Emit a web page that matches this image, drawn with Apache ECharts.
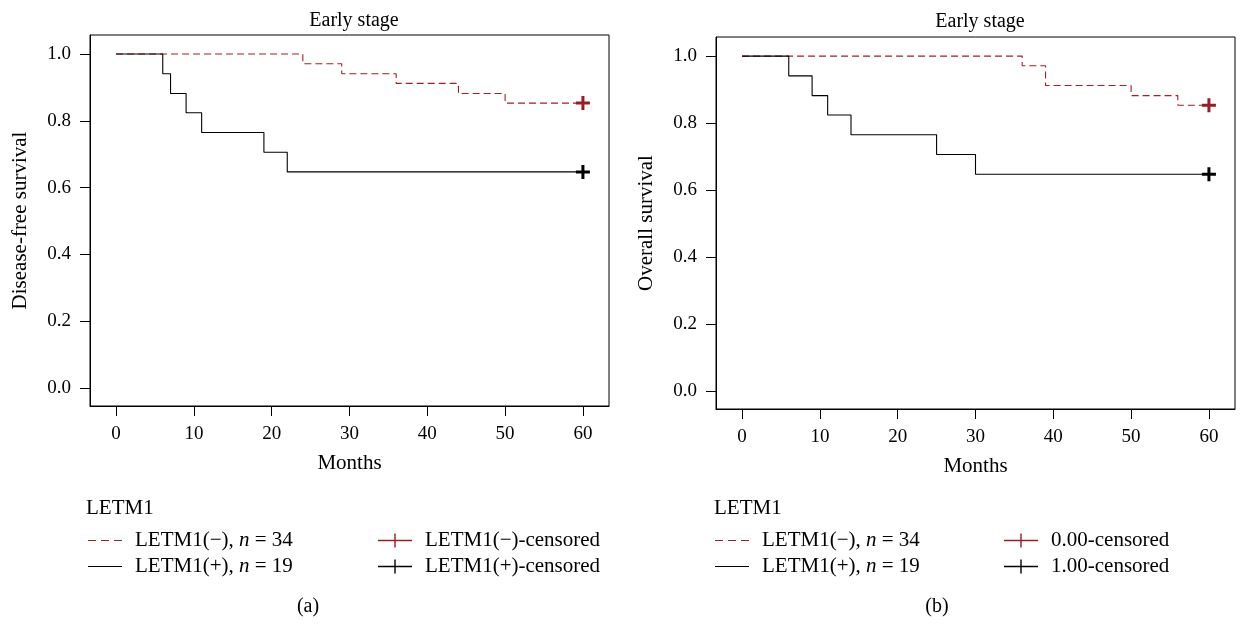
<!DOCTYPE html>
<html>
<head>
<meta charset="UTF-8">
<script src="https://cdn.jsdelivr.net/npm/echarts@6.0.0/dist/echarts.min.js"></script>
<style>
body { margin:0; padding:0; background:#fff; }
#chart { width:1240px; height:625px; }
</style>
</head>
<body><div id="chart"></div>
<script>
// Kaplan-Meier steps (months, survival)
const dfsNegTime = [0, 24, 29, 36, 44, 50, 60];
const dfsNegSurv = [1, 0.971, 0.941, 0.912, 0.882, 0.853, 0.853];
const dfsPosTime = [0, 6, 7, 9, 11, 19, 22, 60];
const dfsPosSurv = [1, 0.941, 0.882, 0.824, 0.765, 0.706, 0.647, 0.647];

const osNegTime = [0, 36, 39, 50, 56, 60];
const osNegSurv = [1, 0.971, 0.912, 0.882, 0.853, 0.853];
const osPosTime = [0, 6, 9, 11, 14, 25, 30, 60];
const osPosSurv = [1, 0.941, 0.882, 0.824, 0.765, 0.706, 0.647, 0.647];

// censored marks at end of follow-up
const dfsCensNeg = [[60, 0.853]];
const dfsCensPos = [[60, 0.647]];
const osCensNeg = [[60, 0.853]];
const osCensPos = [[60, 0.647]];

const monthTicks = [0, 10, 20, 30, 40, 50, 60];
const survTicks = [0, 0.2, 0.4, 0.6, 0.8, 1.0];

const negName = 'LETM1(−), n = 34';
const posName = 'LETM1(+), n = 19';
const panelTitle = 'Early stage';

const FONT = 'Liberation Serif';
const RED_LINE = '#a21f27';
const RED_MARK = '#9b1c22';
const PLUS = 'path://M5.5,0h3v5.5h5.5v3h-5.5v5.5h-3v-5.5h-5.5v-3h5.5z';
const PLUS_ICON = 'path://M0,6.3h34v1.4h-34z M16.3,0h1.4v14h-1.4z';
const DASH_ICON = 'path://M0,6.4h8v1.2h-8z M13,6.4h8v1.2h-8z M26,6.4h8v1.2h-8z';
const SOLID_ICON = 'path://M0,6.4h34v1.2h-34z';

const zip = (t, s) => t.map((v, i) => [v, s[i]]);

function xAxis(gridIndex) {
  return {
    type: 'value', gridIndex, min: -3.35, max: 63.35,
    name: 'Months', nameLocation: 'middle', nameGap: 47,
    nameTextStyle: { fontFamily: FONT, fontSize: 21, color: '#000' },
    axisLine: { show: true, onZero: false, lineStyle: { color: '#000', width: 1 } },
    axisTick: { show: true, length: 10, inside: false, customValues: monthTicks, lineStyle: { color: '#000' } },
    axisLabel: { margin: 19, customValues: monthTicks, fontFamily: FONT, fontSize: 19, color: '#000' },
    splitLine: { show: false }
  };
}

function yAxis(gridIndex, name) {
  return {
    type: 'value', gridIndex, min: -0.054, max: 1.057,
    name, nameLocation: 'middle', nameGap: 59, nameRotate: 90,
    nameTextStyle: { fontFamily: FONT, fontSize: 21, color: '#000' },
    axisLine: { show: true, onZero: false, lineStyle: { color: '#000', width: 1 } },
    axisTick: { show: true, length: 10, customValues: survTicks, lineStyle: { color: '#000' } },
    axisLabel: { margin: 19, customValues: survTicks, formatter: v => v.toFixed(1),
      fontFamily: FONT, fontSize: 19, color: '#000' },
    splitLine: { show: false }
  };
}

function stepLine(name, idx, data, color, dashed) {
  return {
    type: 'line', name, xAxisIndex: idx, yAxisIndex: idx, step: 'end',
    symbol: 'none', data, silent: true,
    lineStyle: { color, width: 1.1, type: dashed ? [7, 4] : 'solid' },
    itemStyle: { color }
  };
}

function censor(name, idx, data, color) {
  return {
    type: 'scatter', name, xAxisIndex: idx, yAxisIndex: idx,
    symbol: PLUS, symbolSize: 14, data, itemStyle: { color, opacity: 1 }, z: 5
  };
}

const legendText = {
  fontFamily: FONT, fontSize: 21, color: '#000', padding: [0, 0, 0, 8],
  rich: { i: { fontFamily: FONT, fontSize: 21, fontStyle: 'italic', color: '#000' } }
};
const legendFmt = name => name.replace(', n =', ', {i|n} =');

function legend(left, data) {
  return {
    left, top: 530, padding: 0, orient: 'vertical', itemWidth: 34, itemHeight: 14, itemGap: 5,
    selectedMode: false, textStyle: legendText, formatter: legendFmt, data
  };
}

const lineKeys = [
  { name: negName, icon: DASH_ICON, itemStyle: { color: RED_LINE } },
  { name: posName, icon: SOLID_ICON, itemStyle: { color: '#000' } }
];
const censKey = (name, color) => ({ name, icon: PLUS_ICON, itemStyle: { color } });

const titleStyle = { fontFamily: FONT, fontSize: 20, fontWeight: 'normal', color: '#000' };
const headStyle = { fontFamily: FONT, fontSize: 21, fontWeight: 'normal', color: '#000' };

const chart = echarts.init(document.getElementById('chart'), null, { renderer: 'canvas' });
chart.setOption({
  animation: false,
  backgroundColor: '#fff',
  textStyle: { fontFamily: FONT },
  title: [
    { text: panelTitle, left: 349, top: 6, textAlign: 'center', textStyle: titleStyle },
    { text: panelTitle, left: 975, top: 7, textAlign: 'center', textStyle: titleStyle },
    { text: 'LETM1', left: 81, top: 493, textStyle: headStyle },
    { text: 'LETM1', left: 709, top: 493, textStyle: headStyle },
    { text: '(a)', left: 303, top: 592, textAlign: 'center', textStyle: titleStyle },
    { text: '(b)', left: 932, top: 592, textAlign: 'center', textStyle: titleStyle }
  ],
  grid: [
    { left: 90, top: 35, width: 519, height: 371, show: true, borderColor: '#000', borderWidth: 1 },
    { left: 716, top: 37, width: 519, height: 372, show: true, borderColor: '#000', borderWidth: 1 }
  ],
  xAxis: [xAxis(0), xAxis(1)],
  yAxis: [yAxis(0, 'Disease-free survival'), yAxis(1, 'Overall survival')],
  legend: [
    legend(88, lineKeys),
    legend(378, [censKey('LETM1(−)-censored', RED_MARK), censKey('LETM1(+)-censored', '#000')]),
    legend(715, lineKeys),
    legend(1004, [censKey('0.00-censored', RED_MARK), censKey('1.00-censored', '#000')])
  ],
  series: [
    stepLine(negName, 0, zip(dfsNegTime, dfsNegSurv), RED_LINE, true),
    stepLine(posName, 0, zip(dfsPosTime, dfsPosSurv), '#000', false),
    censor('LETM1(−)-censored', 0, dfsCensNeg, RED_MARK),
    censor('LETM1(+)-censored', 0, dfsCensPos, '#000'),
    stepLine(negName, 1, zip(osNegTime, osNegSurv), RED_LINE, true),
    stepLine(posName, 1, zip(osPosTime, osPosSurv), '#000', false),
    censor('0.00-censored', 1, osCensNeg, RED_MARK),
    censor('1.00-censored', 1, osCensPos, '#000')
  ]
});
</script>
</body></html>
